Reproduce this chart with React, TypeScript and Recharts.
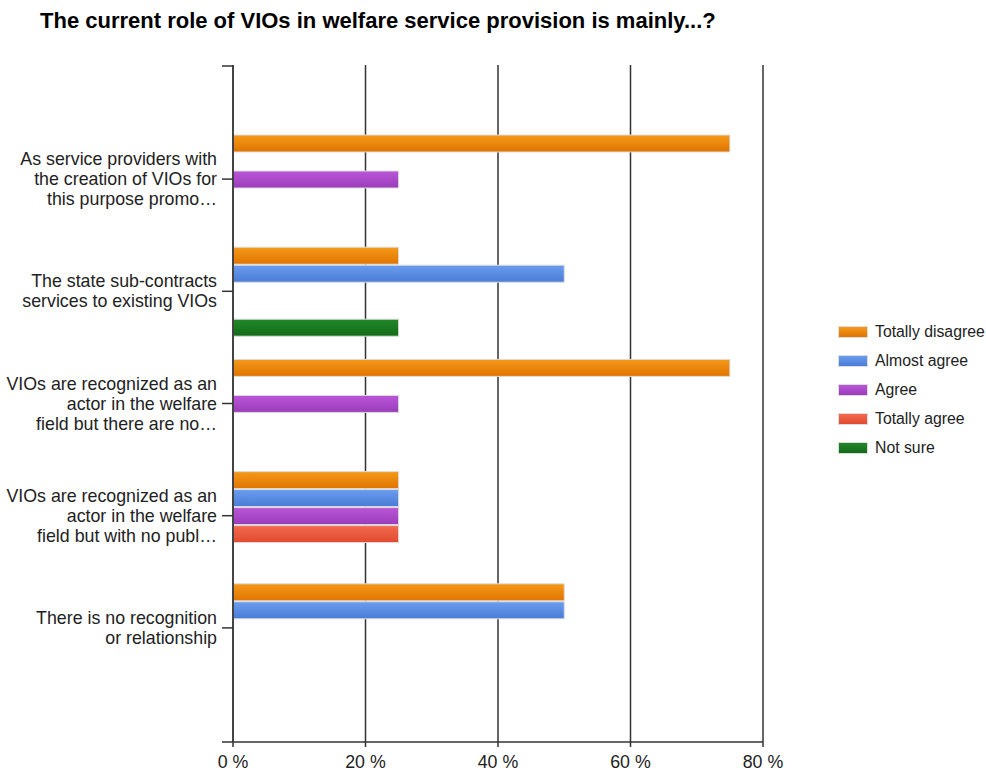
import React from "react";
import { BarChart, Bar, XAxis, YAxis, CartesianGrid, Label } from "recharts";

const categoryLines: string[][] = [
  ["As service providers with", "the creation of VIOs for", "this purpose promo…"],
  ["The state sub-contracts", "services to existing VIOs"],
  ["VIOs are recognized as an", "actor in the welfare", "field but there are no…"],
  ["VIOs are recognized as an", "actor in the welfare", "field but with no publ…"],
  ["There is no recognition", "or relationship"],
];

const totallyDisagree = [75, 25, 75, 25, 50];
const almostAgree = [0, 50, 0, 25, 50];
const agree = [25, 0, 25, 25, 0];
const totallyAgree = [0, 0, 0, 25, 0];
const notSure = [0, 25, 0, 0, 0];

const xTicks = [0, 20, 40, 60, 80];

const series = [
  { key: "td", name: "Totally disagree", values: totallyDisagree, top: "#f49a1a", bottom: "#e07400" },
  { key: "aa", name: "Almost agree", values: almostAgree, top: "#6a9ced", bottom: "#4a7cd8" },
  { key: "ag", name: "Agree", values: agree, top: "#ba56d8", bottom: "#9a3cba" },
  { key: "ta", name: "Totally agree", values: totallyAgree, top: "#f46a50", bottom: "#e04a30" },
  { key: "ns", name: "Not sure", values: notSure, top: "#22882a", bottom: "#126a18" },
];

const data = categoryLines.map((lines, i) => {
  const row: Record<string, any> = { cat: lines.join(" "), lines };
  series.forEach((s) => {
    row[s.key] = s.values[i];
  });
  return row;
});

const FONT = "'Liberation Sans', Arial, sans-serif";

const YTick = (props: any) => {
  const { x, y, payload } = props;
  const idx = data.findIndex((d) => d.cat === payload.value);
  const lines: string[] = idx >= 0 ? data[idx].lines : [String(payload.value)];
  const n = lines.length;
  return (
    <text x={x} y={y} textAnchor="end" fill="#222" fontSize={17.8} fontFamily={FONT}>
      {lines.map((l, i) => (
        <tspan key={i} x={x} y={y + (i - (n - 1) / 2) * 20} dominantBaseline="central">
          {l}
        </tspan>
      ))}
    </text>
  );
};

const XTick = (props: any) => {
  const { x, y, payload } = props;
  return (
    <text x={x} y={y} dy="0.71em" textAnchor="middle" fill="#222" fontSize={17.8} fontFamily={FONT}>
      {`${payload.value} %`}
    </text>
  );
};

const FrameTicks = (props: any) => {
  const vb = props.viewBox || {};
  const { x = 0, y = 0, width = 0, height = 0 } = vb;
  const right = x + width;
  return (
    <g>
      <line x1={right - 11} x2={right} y1={y + 1} y2={y + 1} stroke="#333" strokeWidth={1.5} />
      <line x1={right - 11} x2={right} y1={y + height} y2={y + height} stroke="#333" strokeWidth={1.5} />
    </g>
  );
};

export default function App() {
  return (
    <div style={{ position: "absolute", left: 0, top: 0, width: 986, height: 773, background: "#fff" }}>
      <div
        style={{
          position: "absolute",
          left: 40,
          top: 8,
          fontFamily: FONT,
          fontWeight: "bold",
          fontSize: 22,
          lineHeight: "normal",
          color: "#000",
          whiteSpace: "nowrap",
        }}
      >
        The current role of VIOs in welfare service provision is mainly...?
      </div>
      <BarChart
        width={986}
        height={773}
        data={data}
        layout="vertical"
        margin={{ top: 65, right: 223, bottom: 0, left: 33 }}
        barSize={17}
        barGap={1}
      >
        <defs>
          {series.map((s) => (
            <linearGradient key={s.key} id={`g-${s.key}`} x1="0" y1="0" x2="0" y2="1">
              <stop offset="0%" stopColor={s.top} />
              <stop offset="100%" stopColor={s.bottom} />
            </linearGradient>
          ))}
        </defs>
        <CartesianGrid horizontal={false} vertical={true} stroke="#333" strokeWidth={1.5} />
        <XAxis
          type="number"
          domain={[0, 80]}
          ticks={xTicks}
          tickSize={5}
          tickMargin={8}
          height={31}
          axisLine={{ stroke: "#333", strokeWidth: 1.5 }}
          tickLine={{ stroke: "#333", strokeWidth: 1.5 }}
          tick={<XTick />}
          allowDataOverflow
        />
        <YAxis
          type="category"
          dataKey="cat"
          width={200}
          padding={{ top: 58, bottom: 58 }}
          tickSize={11}
          tickMargin={5}
          axisLine={{ stroke: "#444", strokeWidth: 2 }}
          tickLine={{ stroke: "#333", strokeWidth: 1.5 }}
          tick={<YTick />}
          interval={0}
        >
          <Label content={<FrameTicks />} />
        </YAxis>
        {series.map((s) => (
          <Bar
            key={s.key}
            dataKey={s.key}
            name={s.name}
            fill={`url(#g-${s.key})`}
            stroke="#dcdcdc"
            strokeWidth={1}
            isAnimationActive={false}
          />
        ))}
      </BarChart>
      <div style={{ position: "absolute", left: 838, top: 317, fontFamily: FONT, fontSize: 15.8, color: "#222" }}>
        {series.map((s) => (
          <div key={s.key} style={{ display: "flex", alignItems: "center", height: 29 }}>
            <div
              style={{
                width: 30,
                height: 12,
                background: `linear-gradient(${s.top}, ${s.bottom})`,
                border: "1px solid #dcdcdc",
                boxSizing: "border-box",
                marginRight: 7,
              }}
            />
            <span style={{ whiteSpace: "nowrap" }}>{s.name}</span>
          </div>
        ))}
      </div>
    </div>
  );
}
